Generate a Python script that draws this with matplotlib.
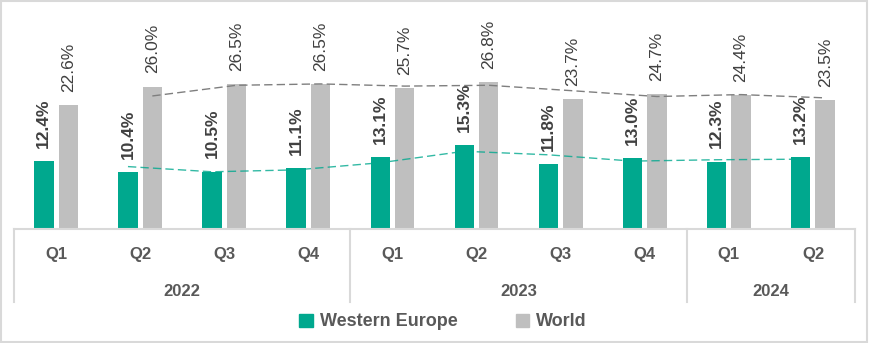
import pandas as pd
import numpy as np
import matplotlib
matplotlib.use('Agg')
import matplotlib.pyplot as plt
from matplotlib.patches import Patch, Rectangle
import matplotlib.transforms as mtransforms

plt.rcParams['font.family'] = ['Liberation Sans', 'DejaVu Sans']

quarters = ['Q1', 'Q2', 'Q3', 'Q4', 'Q1', 'Q2', 'Q3', 'Q4', 'Q1', 'Q2']
years = ['2022', '2023', '2024']
year_spans = [(0, 3), (4, 7), (8, 9)]
western_europe = [12.4, 10.4, 10.5, 11.1, 13.1, 15.3, 11.8, 13.0, 12.3, 13.2]
world = [22.6, 26.0, 26.5, 26.5, 25.7, 26.8, 23.7, 24.7, 24.4, 23.5]

teal = '#00A88E'
grey = '#BFBFBF'
label_col = '#404040'
axis_col = '#595959'
line_col = '#D9D9D9'

# 2-period moving average trendlines, as in the source chart
we_trend = pd.Series(western_europe).rolling(2).mean()
world_trend = pd.Series(world).rolling(2).mean()

fig = plt.figure(figsize=(8.69, 3.43), dpi=100)
ax = fig.add_axes([14 / 869, (343 - 229) / 343, (855 - 14) / 869, 219 / 343])

x = np.arange(len(quarters))
w = 0.23
off = 0.145
ax.bar(x - off, western_europe, w, color=teal, zorder=2)
ax.bar(x + off, world, w, color=grey, zorder=2)

ax.plot(x - off, we_trend, color=teal, lw=1, ls=(0, (6, 3)), alpha=0.8, zorder=3)
ax.plot(x + off, world_trend, color='#7F7F7F', lw=1, ls=(0, (6, 3)), zorder=3)

for i in range(len(x)):
    ax.annotate(f'{western_europe[i]:.1f}%', (x[i] - off, western_europe[i]),
                xytext=(0, 9.5), textcoords='offset points', rotation=90,
                ha='center', va='bottom', fontsize=12.5, fontweight='bold',
                color=label_col)
    ax.annotate(f'{world[i]:.1f}%', (x[i] + off, world[i]),
                xytext=(0, 9.5), textcoords='offset points', rotation=90,
                ha='center', va='bottom', fontsize=12.5, color=label_col)

ax.set_xlim(-0.5, 9.5)
ax.set_ylim(0, 40)
ax.axis('off')

# category axis drawn by hand: quarters, then years
trans = mtransforms.blended_transform_factory(ax.transData, ax.transAxes)
px = 1 / 219
ax.plot([-0.5, 9.5], [0, 0], color=line_col, lw=1.5, transform=trans, clip_on=False)
for sep in [-0.5, 3.5, 7.5, 9.5]:
    ax.plot([sep, sep], [0, -73 * px], color=line_col, lw=1.5, transform=trans, clip_on=False)
for i, q in enumerate(quarters):
    ax.text(x[i], -25 * px, q, transform=trans, ha='center', va='center',
            fontsize=12, fontweight='bold', color=axis_col)
for yr, (a, b) in zip(years, year_spans):
    ax.text((a + b) / 2, -63 * px, yr, transform=trans, ha='center', va='center',
            fontsize=12, fontweight='bold', color=axis_col)

handles = [Patch(color=teal, label='Western Europe'), Patch(color=grey, label='World')]
fig.legend(handles=handles, loc='center', bbox_to_anchor=(0.51, 21 / 343), ncol=2,
           frameon=False, handlelength=0.75, handleheight=0.75, columnspacing=3.2,
           handletextpad=0.4, prop={'size': 13, 'weight': 'bold'}, labelcolor=axis_col)

fig.patches.append(Rectangle((0.001, 0.002), 0.997, 0.995, transform=fig.transFigure,
                             fill=False, edgecolor=line_col, lw=1.5))

fig.savefig('out.png', dpi=100, facecolor='white')
